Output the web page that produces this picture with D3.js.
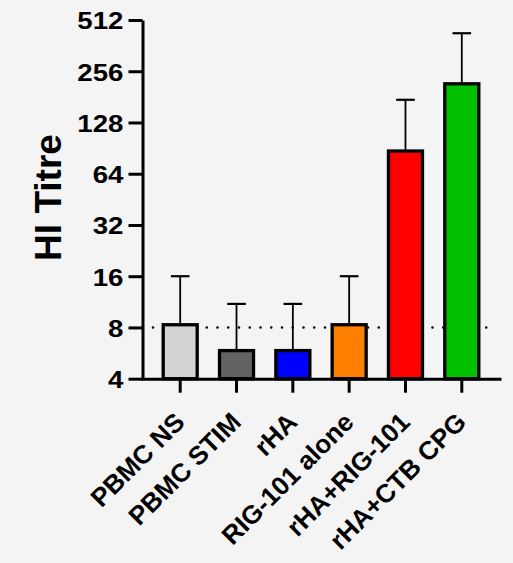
<!DOCTYPE html>
<html lang="en">
<head>
    <meta charset="UTF-8">
    <title>HI Titre</title>
    <script src="https://d3js.org/d3.v7.min.js"></script>
    <style>
        body { margin: 0; background: #f4f4f4; }
        text { font-family: "Liberation Sans", Arial, sans-serif; font-weight: bold; fill: #000; }
    </style>
</head>
<body>
    <svg width="513" height="563" id="svg1"></svg>

    <script>
        // data
        const groups = ["PBMC NS", "PBMC STIM", "rHA", "RIG-101 alone", "rHA+RIG-101", "rHA+CTB CPG"];
        const means = [8.3, 5.85, 5.85, 8.3, 87, 216];
        const upper = [16, 11, 11, 16, 174, 428];
        const colors = ["#d3d3d3", "#636363", "#0000ff", "#ff8000", "#ff0000", "#00c000"];
        const yTicks = [4, 8, 16, 32, 64, 128, 256, 512];
        const threshold = 8;

        const svg = d3.select('#svg1');

        const data = groups.map((g, i) => ({ group: g, mean: means[i], upper: upper[i], color: colors[i] }));

        const x = d3.scaleBand()
            .domain(groups)
            .range([141, 501])
            .paddingInner(0.396)
            .paddingOuter(0.394);

        const y = d3.scaleLog()
            .base(2)
            .domain([4, 512])
            .range([378.7, 20]);

        // dotted threshold line (behind bars)
        svg.append('line')
            .attr('x1', 153)
            .attr('x2', 497)
            .attr('y1', y(threshold))
            .attr('y2', y(threshold))
            .attr('stroke', '#000')
            .attr('stroke-width', 2.6)
            .attr('stroke-linecap', 'round')
            .attr('stroke-dasharray', '0 10.75');

        // error bars (upper only)
        const err = svg.append('g');
        err.selectAll('line.v')
            .data(data)
            .enter().append('line')
            .attr('class', 'v')
            .attr('x1', d => x(d.group) + x.bandwidth() / 2)
            .attr('x2', d => x(d.group) + x.bandwidth() / 2)
            .attr('y1', d => y(d.mean))
            .attr('y2', d => y(d.upper))
            .attr('stroke', '#000')
            .attr('stroke-width', 1.8);
        err.selectAll('line.cap')
            .data(data)
            .enter().append('line')
            .attr('class', 'cap')
            .attr('x1', d => x(d.group) + x.bandwidth() / 2 - 9.3)
            .attr('x2', d => x(d.group) + x.bandwidth() / 2 + 9.3)
            .attr('y1', d => y(d.upper))
            .attr('y2', d => y(d.upper))
            .attr('stroke', '#000')
            .attr('stroke-width', 2.2);

        // bars
        svg.append('g')
            .selectAll('rect')
            .data(data)
            .enter().append('rect')
            .attr('x', d => x(d.group))
            .attr('y', d => y(d.mean))
            .attr('width', x.bandwidth())
            .attr('height', d => y(4) - y(d.mean))
            .attr('fill', d => d.color)
            .attr('stroke', '#000')
            .attr('stroke-width', 3.3);

        // y axis
        const yAxis = svg.append('g')
            .attr('transform', 'translate(142.5,0)')
            .call(d3.axisLeft(y).tickValues(yTicks).tickFormat(d3.format('d')).tickSize(14).tickSizeOuter(0).tickPadding(5));

        // x axis
        const xAxis = svg.append('g')
            .attr('transform', `translate(0,${y(4)})`)
            .call(d3.axisBottom(x).tickSize(14).tickSizeOuter(0));

        svg.selectAll('.domain, .tick line')
            .attr('stroke', '#000')
            .attr('stroke-width', 3);

        // tick labels in the reference are a little wider than Arial
        yAxis.selectAll('text')
            .style('font-size', '24.5px')
            .attr('x', 0)
            .attr('dy', '0.36em')
            .attr('transform', 'translate(-19,0) scale(1.13,1)');

        xAxis.selectAll('text')
            .style('font-size', '26px')
            .attr('text-anchor', 'end')
            .attr('x', 0)
            .attr('y', 0)
            .attr('dy', 0)
            .attr('transform', 'translate(6,45) rotate(-45)');

        svg.selectAll('.tick text').attr('fill', '#000');

        // y axis title
        svg.append('text')
            .attr('transform', 'translate(61,197.5) rotate(-90)')
            .attr('text-anchor', 'middle')
            .style('font-size', '37px')
            .text('HI Titre');
    </script>
</body>
</html>
